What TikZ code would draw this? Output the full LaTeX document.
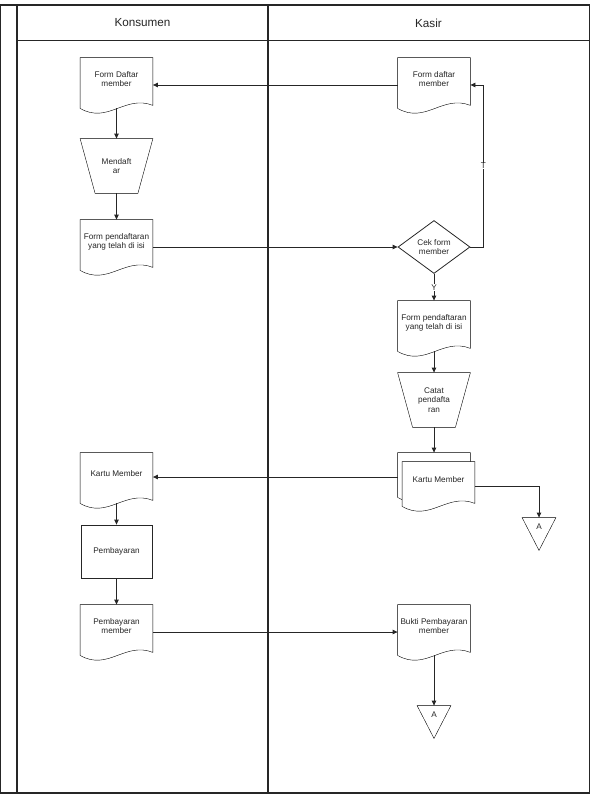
\documentclass[tikz,border=0pt]{standalone}
\usepackage{fontspec}
\setmainfont{Liberation Sans}
\usetikzlibrary{calc,shapes.geometric,arrows.meta,backgrounds}

\newcommand\flowfont{\fontsize{8.2}{9.8}\selectfont}
\newcommand\lanefont{\fontsize{11.7}{14}\selectfont}

\begin{document}
\begin{tikzpicture}[
	x=1pt, y=-1pt,
	line width=0.8pt, color=black!85,
	doc/.style={rectangle, minimum width=72pt, minimum height=54pt, inner sep=1pt, align=center, font=\flowfont, text depth=12pt},
	manual/.style={rectangle, minimum width=72pt, minimum height=54pt, inner sep=1pt, align=center, font=\flowfont},
	proc/.style={draw, rectangle, minimum width=71pt, minimum height=53pt, inner sep=1pt, align=center, font=\flowfont},
	decision/.style={draw, diamond, minimum width=72pt, minimum height=53pt, inner sep=0pt, align=center, font=\flowfont},
	offpage/.style={rectangle, minimum width=33pt, minimum height=18pt, inner sep=0pt, font=\flowfont},
	lane/.style={font=\lanefont},
	tag/.style={fill=white, inner sep=0.5pt, font=\flowfont},
	>={Triangle[length=5pt,width=4.5pt]}
	]
	
	\useasboundingbox (0,0) rectangle (591,797);
	
	%-----------------------
	% Swimlanes
	%-----------------------
	\draw[line width=1.2pt] (0.5,5) rectangle (589.5,793);
	\draw[line width=1.2pt] (17,5) -- (17,793);
	\draw[line width=1.2pt] (268,5) -- (268,793);
	\draw[line width=1pt] (17,40.5) -- (589.5,40.5);
	\node[lane] (konsumen) at (142.5,23) {Konsumen};
	\node[lane] (kasir) at (428.5,23) {Kasir};
	
	%-----------------------
	% Konsumen
	%-----------------------
	\node[doc] (daftarK) at (116.5,85) {Form Daftar\\member};
	\node[manual] (mendaftar) at (116.5,166) {Mendaft\\ar};
	\node[doc] (isiK) at (116.5,247) {Form pendaftaran\\yang telah di isi};
	\node[doc] (kartuK) at (116.5,480) {Kartu Member};
	\node[proc] (bayar) at (116.5,551.5) {Pembayaran};
	\node[doc] (bayarK) at (116.5,632) {Pembayaran\\member};
	
	%-----------------------
	% Kasir
	%-----------------------
	\node[doc] (daftarS) at (434,85) {Form daftar\\member};
	\node[decision] (cek) at (434,247) {Cek form\\member};
	\node[doc] (isiS) at (434,328) {Form pendaftaran\\yang telah di isi};
	\node[manual] (catat) at (434,400) {Catat\\pendafta\\ran};
	\node[doc, minimum height=48pt] (kartuB) at (434,477) {};
	\node[doc, minimum height=48pt] (kartuS) at (438.5,486) {Kartu Member};
	\node[offpage] (A1) at (539,527) {A};
	\node[doc] (bukti) at (434,632) {Bukti Pembayaran\\member};
	\node[offpage] (A2) at (434,715) {A};
	
	%-----------------------
	% Outlines (behind the text)
	%-----------------------
	\begin{scope}[on background layer]
		\foreach \n in {daftarK,daftarS,isiK,isiS,kartuK,bayarK,bukti,kartuB,kartuS}
			\draw[fill=white] (\n.north west) -- (\n.north east) -- ($(\n.south east)+(0,-7)$)
				.. controls ($(\n.south east)+(-28,-18)$) and ($(\n.south west)+(28,12)$) .. ($(\n.south west)+(0,-4)$) -- cycle;
		\foreach \n in {mendaftar,catat}
			\draw (\n.north west) -- (\n.north east) -- ($(\n.south east)+(-15,0)$) -- ($(\n.south west)+(15,0)$) -- cycle;
		\foreach \n in {A1,A2}
			\draw (\n.north west) -- (\n.north east) -- ($(\n.south)+(0,14)$) -- cycle;
	\end{scope}
	
	%-----------------------
	% Connections
	%-----------------------
	\tikzset{connect/.style={->}, fromdoc/.style={->, shorten <=-4pt}}
	
	\draw[connect] (daftarS.west) -- (daftarK.east);
	\draw[fromdoc] (daftarK.south) -- (mendaftar.north);
	\draw[connect] (mendaftar.south) -- (isiK.north);
	\draw[connect] (isiK.east) -- (cek.west);
	\draw[connect] (cek.east) -- ++(13,0) |- node[pos=0.25, tag] {T} (daftarS.east);
	\draw[connect] (cek.south) -- node[tag] {Y} (isiS.north);
	\draw[fromdoc] (isiS.south) -- (catat.north);
	\draw[connect] (catat.south) -- (kartuB.north);
	\draw[connect] (kartuB.west) -- (kartuB.west -| kartuK.east);
	\draw[connect] (kartuS.east) -| (A1.north);
	\draw[fromdoc] (kartuK.south) -- (bayar.north);
	\draw[connect] (bayar.south) -- (bayarK.north);
	\draw[connect] (bayarK.east) -- (bukti.west);
	\draw[fromdoc] (bukti.south) -- (A2.north);
	
\end{tikzpicture}
\end{document}
